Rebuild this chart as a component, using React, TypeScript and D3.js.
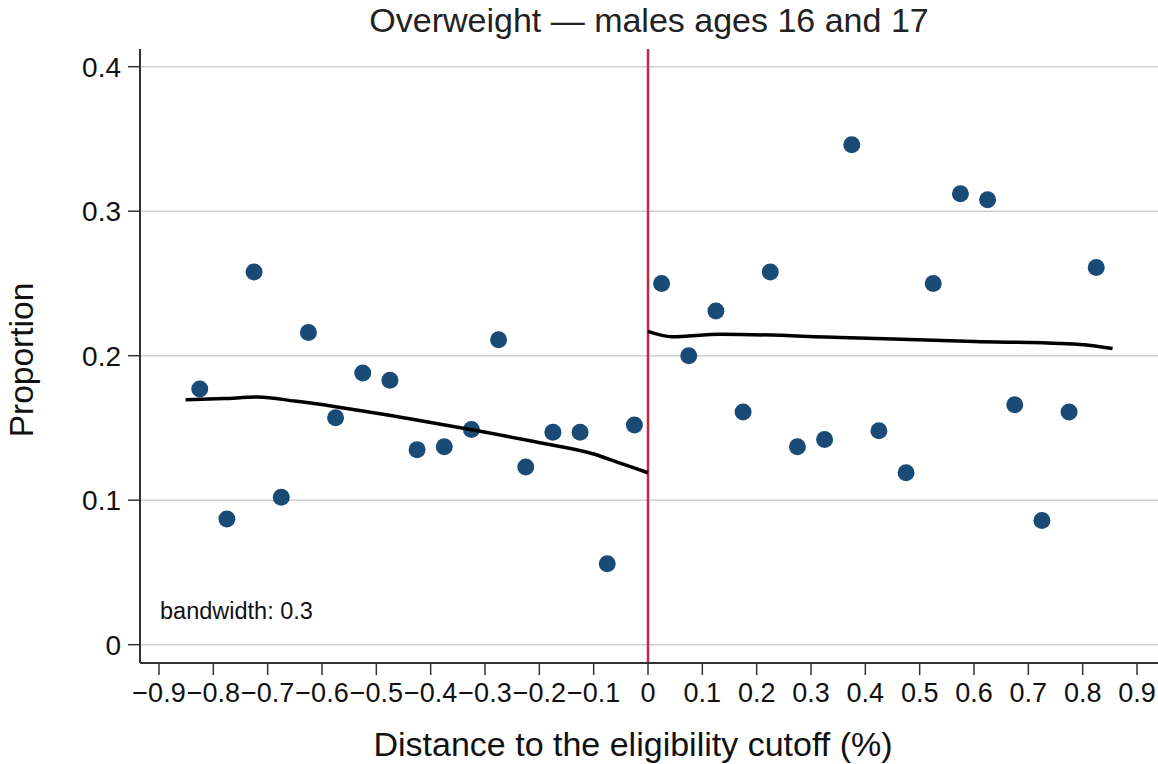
import React from "react";
import * as d3 from "d3";

const leftBins = [-0.825, -0.775, -0.725, -0.675, -0.625, -0.575, -0.525, -0.475, -0.425, -0.375, -0.325, -0.275, -0.225, -0.175, -0.125, -0.075, -0.025];
const leftValues = [0.177, 0.087, 0.258, 0.102, 0.216, 0.157, 0.188, 0.183, 0.135, 0.137, 0.149, 0.211, 0.123, 0.147, 0.147, 0.056, 0.152];
const rightBins = [0.025, 0.075, 0.125, 0.175, 0.225, 0.275, 0.325, 0.375, 0.425, 0.475, 0.525, 0.575, 0.625, 0.675, 0.725, 0.775, 0.825];
const rightValues = [0.25, 0.2, 0.231, 0.161, 0.258, 0.137, 0.142, 0.346, 0.148, 0.119, 0.25, 0.312, 0.308, 0.166, 0.086, 0.161, 0.261];

const leftFitX = [-0.851, -0.78, -0.718, -0.65, -0.575, -0.444, -0.322, -0.199, -0.1, -0.05, 0];
const leftFitY = [0.1695, 0.1703, 0.1714, 0.1686, 0.1647, 0.1567, 0.1486, 0.1398, 0.132, 0.1255, 0.119];
const rightFitX = [0, 0.044, 0.133, 0.355, 0.601, 0.761, 0.811, 0.855];
const rightFitY = [0.2168, 0.2131, 0.2149, 0.2126, 0.2098, 0.2084, 0.2073, 0.205];

const xTicks = [-0.9, -0.8, -0.7, -0.6, -0.5, -0.4, -0.3, -0.2, -0.1, 0, 0.1, 0.2, 0.3, 0.4, 0.5, 0.6, 0.7, 0.8, 0.9];
const yTicks = [0, 0.1, 0.2, 0.3, 0.4];

const W = 1158;
const H = 764;
const FONT = "'Liberation Sans', Arial, Helvetica, sans-serif";

export default function App() {
  const x = d3.scaleLinear().domain([-0.9, 0.9]).range([159, 1137]);
  const y = d3.scaleLinear().domain([0, 0.4]).range([644.7, 66.7]);
  const axisX = 140;
  const axisY = 663;
  const axisTop = 49;

  const fmtX = (v: number) => (v === 0 ? "0" : (v < 0 ? "\u2212" : "") + d3.format(".1f")(Math.abs(v)));
  const fmtY = (v: number) => (v === 0 ? "0" : d3.format(".1f")(v));

  const line = d3
    .line<[number, number]>()
    .x((d) => x(d[0]))
    .y((d) => y(d[1]))
    .curve(d3.curveMonotoneX);

  const leftFit = leftFitX.map((v, i) => [v, leftFitY[i]] as [number, number]);
  const rightFit = rightFitX.map((v, i) => [v, rightFitY[i]] as [number, number]);
  const pts = [
    ...leftBins.map((v, i) => [v, leftValues[i]]),
    ...rightBins.map((v, i) => [v, rightValues[i]]),
  ];

  return (
    <svg
      width={W}
      height={H}
      style={{ position: "absolute", left: 0, top: 0, background: "#fff" }}
      fontFamily={FONT}
    >
      <rect x={0} y={0} width={W} height={H} fill="#fff" />
      {yTicks.map((t) => (
        <line key={"g" + t} x1={axisX} x2={W} y1={y(t)} y2={y(t)} stroke="#cfcfcf" strokeWidth={1.5} />
      ))}
      <text x={649} y={32} textAnchor="middle" fontSize={34} fill="#222">
        Overweight — males ages 16 and 17
      </text>
      <line x1={x(0)} x2={x(0)} y1={axisTop} y2={axisY} stroke="#c6283f" strokeWidth={2.5} />
      {pts.map((p, i) => (
        <circle key={"p" + i} cx={x(p[0])} cy={y(p[1])} r={8.5} fill="#1a4b76" />
      ))}
      <path d={line(leftFit) || ""} fill="none" stroke="#000" strokeWidth={3.5} />
      <path d={line(rightFit) || ""} fill="none" stroke="#000" strokeWidth={3.5} />
      <line x1={axisX} x2={axisX} y1={axisTop} y2={axisY} stroke="#333" strokeWidth={2} />
      {yTicks.map((t) => (
        <g key={"yt" + t}>
          <line x1={axisX - 12} x2={axisX} y1={y(t)} y2={y(t)} stroke="#333" strokeWidth={1.5} />
          <text x={axisX - 19} y={y(t)} dy="0.36em" textAnchor="end" fontSize={28} fill="#111">
            {fmtY(t)}
          </text>
        </g>
      ))}
      <line x1={axisX} x2={W} y1={axisY} y2={axisY} stroke="#333" strokeWidth={2} />
      {xTicks.map((t) => (
        <g key={"xt" + t}>
          <line x1={x(t)} x2={x(t)} y1={axisY} y2={axisY + 12} stroke="#333" strokeWidth={1.5} />
          <text x={x(t)} y={702} textAnchor="middle" fontSize={27} fill="#111">
            {fmtX(t)}
          </text>
        </g>
      ))}
      <text x={633} y={756} textAnchor="middle" fontSize={34} fill="#111">
        Distance to the eligibility cutoff (%)
      </text>
      <text transform="translate(33,360) rotate(-90)" textAnchor="middle" fontSize={33.5} fill="#111">
        Proportion
      </text>
      <text x={160} y={619} fontSize={23.5} fill="#111">
        bandwidth: 0.3
      </text>
    </svg>
  );
}
